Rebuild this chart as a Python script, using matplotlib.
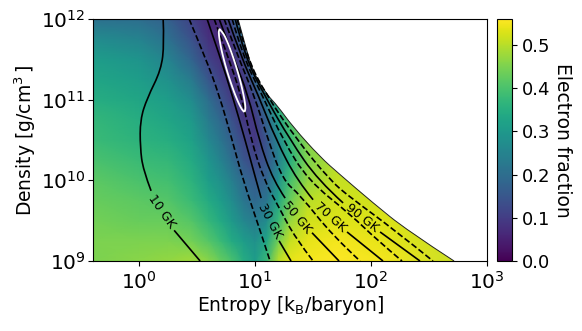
import numpy as np
import matplotlib
matplotlib.use("Agg")
import matplotlib.pyplot as plt
from matplotlib.patches import PathPatch
from matplotlib.path import Path

# everything below is log10(entropy), log10(density)
s_grid = [-0.4, 0.0, 0.25, 0.45, 0.6, 0.7, 0.8, 0.9, 1.0, 1.1, 1.2, 1.3, 1.45, 1.7, 2.1, 3.0]
rho_grid = [9.0, 9.25, 9.5, 9.75, 10.0, 10.25, 10.5, 10.75, 11.0, 11.25, 11.5, 11.75, 12.0]
ye_grid = [
    [.45, .46, .47, .48, .46, .43, .40, .35, .31, .38, .50, .54, .55, .56, .55, .50],
    [.45, .45, .45, .44, .41, .38, .34, .31, .28, .33, .44, .51, .54, .55, .54, .50],
    [.44, .43, .43, .41, .37, .34, .30, .26, .23, .27, .38, .47, .52, .53, .53, .50],
    [.43, .42, .41, .38, .34, .31, .27, .22, .19, .22, .33, .43, .50, .52, .52, .50],
    [.42, .40, .39, .36, .31, .28, .24, .19, .16, .18, .28, .39, .47, .51, .51, .50],
    [.40, .38, .37, .34, .29, .25, .20, .15, .12, .15, .24, .35, .45, .50, .51, .50],
    [.38, .36, .35, .32, .26, .22, .17, .12, .09, .15, .26, .37, .46, .50, .50, .50],
    [.37, .35, .33, .30, .23, .19, .14, .09, .09, .18, .31, .41, .48, .50, .50, .50],
    [.35, .33, .31, .27, .20, .15, .10, .07, .12, .24, .37, .45, .49, .50, .50, .50],
    [.33, .31, .28, .23, .15, .11, .08, .09, .18, .31, .42, .48, .50, .50, .50, .50],
    [.31, .29, .25, .18, .11, .08, .07, .12, .25, .37, .45, .50, .50, .50, .50, .50],
    [.27, .25, .21, .14, .08, .06, .09, .20, .30, .40, .46, .50, .50, .50, .50, .50],
    [.21, .20, .17, .11, .06, .07, .14, .28, .38, .44, .48, .50, .50, .50, .50, .50],
]

edge_s = [.853, .914, .983, 1.103, 1.19, 1.328, 1.56, 1.733, 2.017, 2.31, 2.716]
edge_rho = [12.0, 11.68, 11.34, 11.06, 10.93, 10.66, 10.29, 10.07, 9.72, 9.38, 9.0]

# isotherms, solid ones are split where the label sits
t10 = ([.207, .216, .19, .069, .009, .009, .034, .103], [12.0, 11.7, 11.37, 11.02, 10.75, 10.41, 10.13, 9.87])
t10b = ([.302, .526], [9.38, 9.0])
t20 = ([.431, .569, .69, .802, .897, 1.043, 1.129], [12.0, 11.53, 11.06, 10.5, 10.0, 9.38, 9.0])
t30 = ([.586, .698, .802, .914, 1.009, 1.052], [12.0, 11.53, 11.06, 10.5, 10.0, 9.78])
t30b = ([1.207, 1.31], [9.25, 9.0])
t40 = ([.647, .767, .879, .966, 1.078, 1.207, 1.345, 1.5], [12.0, 11.53, 11.06, 10.5, 10.0, 9.66, 9.29, 9.0])
t50 = ([.69, .81, .94, 1.034, 1.155, 1.259], [12.0, 11.53, 11.06, 10.5, 10.0, 9.78])
t50b = ([1.491, 1.724], [9.35, 9.0])
t60 = ([.733, .853, .991, 1.112, 1.241, 1.388, 1.664, 1.905], [12.0, 11.53, 11.06, 10.5, 10.0, 9.82, 9.32, 9.0])
t70 = ([.767, .879, 1.026, 1.181, 1.362, 1.5], [12.0, 11.53, 11.06, 10.5, 10.0, 9.76])
t70b = ([1.793, 2.103], [9.36, 9.0])
t80 = ([.802, .897, 1.06, 1.241, 1.457, 1.828, 2.052, 2.267], [12.0, 11.53, 11.06, 10.5, 10.0, 9.57, 9.26, 9.0])
t90 = ([.828, .914, 1.078, 1.302, 1.543, 1.759], [12.0, 11.53, 11.06, 10.5, 10.0, 9.72])
t90b = ([2.078, 2.422], [9.36, 9.0])
t100 = ([.845, .927, 1.095, 1.362, 1.647, 1.819, 2.207, 2.534], [12.0, 11.53, 11.06, 10.5, 10.0, 9.79, 9.38, 9.0])

solid = [t10, t10b, t30, t30b, t50, t50b, t70, t70b, t90, t90b]
dashed = [t20, t40, t60, t80, t100]

label_text = ["10 GK", "30 GK", "50 GK", "70 GK", "90 GK"]
label_s = [.198, 1.129, 1.362, 1.647, 1.922]
label_rho = [9.62, 9.496, 9.546, 9.546, 9.534]
label_rot = [-55, -62, -50, -42, -38]

ell_s = [.909, .916, .916, .907, .891, .870, .843, .814, .784, .755, .729, .700, .694, .687, .688, .697, .712, .734,
         .760, .790, .820, .849, .874, .895, .909]
ell_rho = [10.847, 10.870, 10.925, 11.011, 11.120, 11.246, 11.380, 11.512, 11.634, 11.737, 11.815, 11.864, 11.876,
           11.854, 11.798, 11.712, 11.603, 11.477, 11.343, 11.212, 11.089, 10.986, 10.909, 10.860, 10.847]

def pow10(v):
    return 10.0 ** np.array(v)

def smooth(xs, ys):
    # quadratic bezier through the mid points, the read values are the control points
    p = np.column_stack([pow10(xs), pow10(ys)])
    lp = np.column_stack([xs, ys])
    verts, codes = [p[0]], [Path.MOVETO]
    if len(p) == 2:
        return [p[0], p[1]], [Path.MOVETO, Path.LINETO]
    for i in range(1, len(p) - 1):
        if i == len(p) - 2:
            end = p[-1]
        else:
            end = 10.0 ** ((lp[i] + lp[i + 1]) / 2)
        verts += [p[i], end]
        codes += [Path.CURVE3, Path.CURVE3]
    return verts, codes

fig = plt.figure(figsize=(5.82, 3.31), dpi=100)
ax = fig.add_axes([93 / 582, 1 - 261 / 331, 394 / 582, 242 / 331])
cax = fig.add_axes([497 / 582, 1 - 261 / 331, 15 / 582, 242 / 331])

ax.set_xscale("log")
ax.set_yscale("log")
ax.set_xlim(0.4, 1e3)
ax.set_ylim(1e9, 1e12)
mesh = ax.pcolormesh(pow10(s_grid), pow10(rho_grid), np.array(ye_grid), cmap="viridis", vmin=0, vmax=0.56,
                     shading="gouraud")

# white above the edge of the table
verts, codes = smooth(edge_s, edge_rho)
verts = verts + [(0.4, 1e9), (0.4, 1e12), (0.4, 1e12)]
codes = codes + [Path.LINETO, Path.LINETO, Path.CLOSEPOLY]
clip = PathPatch(Path(verts, codes), transform=ax.transData, fc="none", ec="none")
ax.add_patch(clip)
mesh.set_clip_path(clip)
ax.add_patch(PathPatch(Path(*smooth(edge_s, edge_rho)), fill=False, ec="#222222", lw=0.7))

for xs, ys in solid:
    ax.add_patch(PathPatch(Path(*smooth(xs, ys)), fill=False, ec="k", lw=1.2, ls="-"))
for xs, ys in dashed:
    ax.add_patch(PathPatch(Path(*smooth(xs, ys)), fill=False, ec="k", lw=1.2, ls="--"))
for t, xv, yv, r in zip(label_text, label_s, label_rho, label_rot):
    ax.text(10 ** xv, 10 ** yv, t, fontsize=9, rotation=r, ha="center", va="center", rotation_mode="anchor")

ax.add_patch(PathPatch(Path(*smooth(ell_s, ell_rho)), fill=False, ec="white", lw=1.3))

ax.set_xticks([1, 10, 100, 1000])
ax.set_yticks([1e9, 1e10, 1e11, 1e12])
ax.minorticks_off()
ax.tick_params(labelsize=14.5)
ax.tick_params(axis="y", pad=2)
ax.set_xlabel("Entropy [k$_\\mathrm{B}$/baryon]", fontsize=13.5, labelpad=1)
ax.set_ylabel("Density [g/cm$^3\\,$]", fontsize=13.5, labelpad=2)

cb = fig.colorbar(mesh, cax=cax)
cb.set_ticks([0, 0.1, 0.2, 0.3, 0.4, 0.5])
cb.ax.tick_params(labelsize=13)
cb.set_label("Electron fraction", fontsize=13.5, rotation=270, labelpad=16)

fig.savefig("out.png", dpi=100)
